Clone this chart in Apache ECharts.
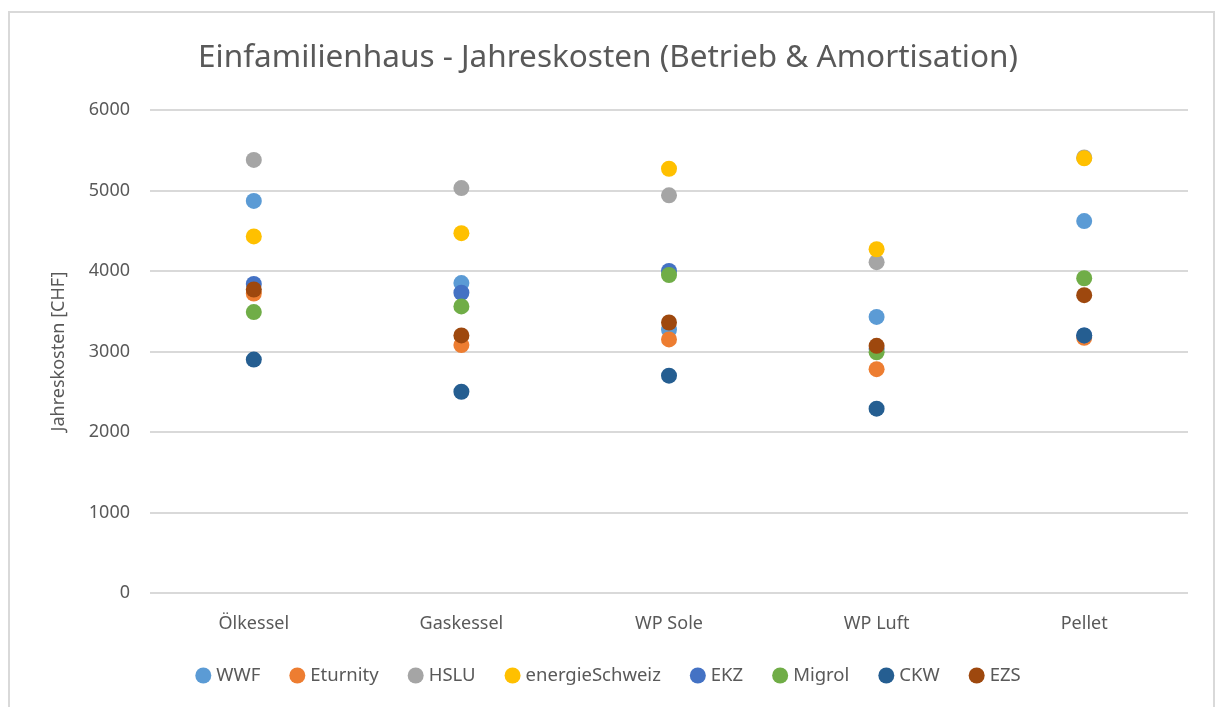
<!DOCTYPE html>
<html>
<head>
<meta charset="utf-8">
<script src="https://cdn.jsdelivr.net/npm/echarts@6/dist/echarts.min.js"></script>
<style>
html,body{margin:0;padding:0;background:#fff;}
#chart{width:1216px;height:707px;}
</style>
</head>
<body>
<div id="chart"></div>
<script>
const categories = ['Ölkessel', 'Gaskessel', 'WP Sole', 'WP Luft', 'Pellet'];
const seriesNames = ['WWF', 'Eturnity', 'HSLU', 'energieSchweiz', 'EKZ', 'Migrol', 'CKW', 'EZS'];
const WWF            = [4870, 3850, 3270, 3430, 4620];
const Eturnity       = [3720, 3080, 3150, 2780, 3170];
const HSLU           = [5380, 5030, 4940, 4110, 5410];
const energieSchweiz = [4430, 4470, 5270, 4270, 5400];
const EKZ            = [3840, 3730, 4000, 3030, 3200];
const Migrol         = [3490, 3560, 3950, 2990, 3910];
const CKW            = [2900, 2500, 2700, 2290, 3200];
const EZS            = [3770, 3200, 3360, 3070, 3700];
const yTicks = [0, 1000, 2000, 3000, 4000, 5000, 6000];

const seriesData = [WWF, Eturnity, HSLU, energieSchweiz, EKZ, Migrol, CKW, EZS];
const colors = ['#5B9BD5', '#ED7D31', '#A5A5A5', '#FFC000', '#4472C4', '#70AD47', '#255E91', '#9E480E'];

const chart = echarts.init(document.getElementById('chart'));
const font = 'Noto Sans, sans-serif';
chart.setOption({
  animation: false,
  color: colors,
  textStyle: { fontFamily: font },
  graphic: [{
    type: 'rect',
    shape: { x: 9, y: 12, width: 1205, height: 700 },
    style: { fill: 'none', stroke: '#d9d9d9', lineWidth: 2 },
    silent: true, z: -1
  }],
  title: {
    text: 'Einfamilienhaus - Jahreskosten (Betrieb & Amortisation)',
    left: 'center', top: 37,
    textStyle: { fontFamily: font, fontSize: 31.5, fontWeight: 'normal', color: '#595959' }
  },
  grid: { left: 150, right: 28, top: 110, bottom: 114, containLabel: false },
  legend: {
    bottom: 17, left: 'center',
    icon: 'circle', itemWidth: 16, itemHeight: 16, itemGap: 29,
    textStyle: { fontFamily: font, fontSize: 18.5, color: '#595959' },
    data: seriesNames
  },
  xAxis: {
    type: 'category', data: categories,
    axisLine: { show: false }, axisTick: { show: false },
    axisLabel: { fontSize: 18, color: '#595959', margin: 22 },
    splitLine: { show: false }
  },
  yAxis: {
    type: 'value', min: yTicks[0], max: yTicks[yTicks.length - 1], interval: 1000,
    name: 'Jahreskosten [CHF]', nameLocation: 'middle', nameGap: 82,
    nameTextStyle: { fontSize: 18, color: '#595959' },
    axisLine: { show: false }, axisTick: { show: false },
    axisLabel: { fontSize: 18, color: '#595959', margin: 20, formatter: v => String(v) },
    splitLine: { lineStyle: { color: '#d9d9d9', width: 2 } }
  },
  series: seriesNames.map((n, i) => ({
    name: n, type: 'scatter', symbol: 'circle', symbolSize: 16,
    data: seriesData[i],
    itemStyle: { color: colors[i], opacity: 1 }
  }))
});
</script>
</body>
</html>
